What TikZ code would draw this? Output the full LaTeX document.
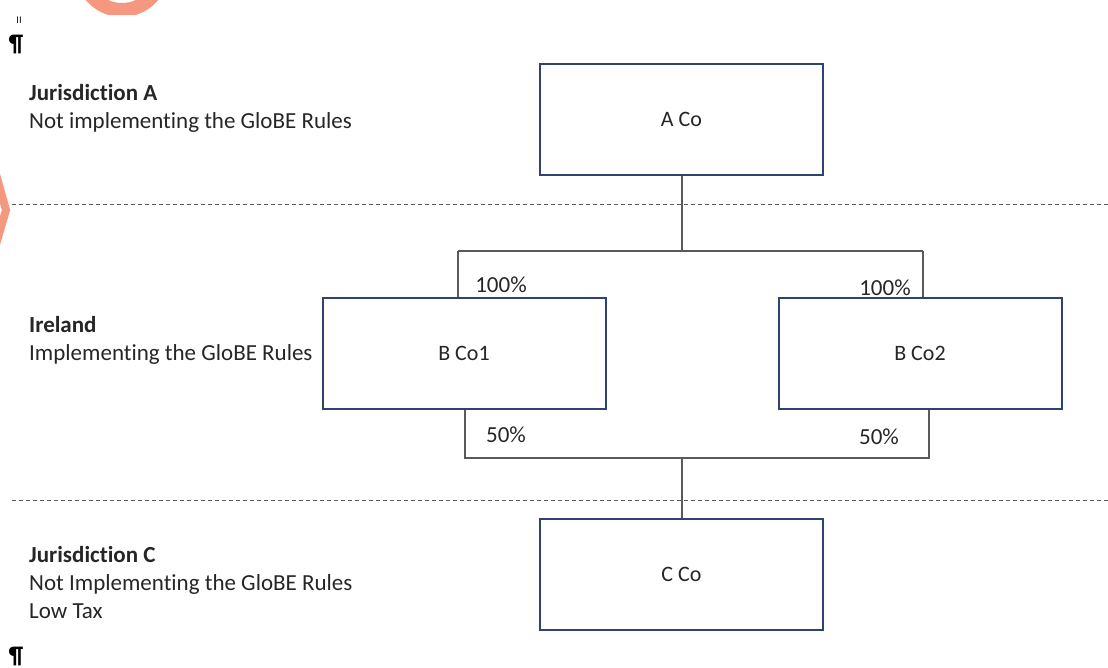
\documentclass[tikz,border=0pt]{standalone}
\usepackage{fontspec}
\setmainfont[Ligatures=NoCommon]{Carlito}
\newfontfamily\symfont{DejaVu Sans}
\begin{document}
\begin{tikzpicture}[x=1pt,y=-1pt,
  company/.style={draw=boxblue,line width=2pt,fill=white,minimum width=283pt,minimum height=111pt,inner sep=0pt,font=\fontsize{22}{26}\selectfont,text=txt},
  link/.style={draw=linkgray,line width=1.3pt},
  border/.style={draw=linkgray,line width=1pt,dash pattern=on 4pt off 3pt},
  juris/.style={anchor=north west,align=left,inner sep=0pt,font=\fontsize{23}{28}\selectfont,text=txt},
  pct/.style={inner sep=0pt,font=\fontsize{23}{26}\selectfont,text=txt},
  pmark/.style={inner sep=0pt,text=black}]
\definecolor{boxblue}{HTML}{2F4270}
\definecolor{linkgray}{HTML}{5A5A5A}
\definecolor{txt}{HTML}{262626}
\definecolor{wm}{HTML}{F6987F}
\useasboundingbox (0,0) rectangle (1108,667);
\fill[white] (0,0) rectangle (1108,667);
% watermark fragments
\begin{scope}
  \clip (0,0) rectangle (230,14);
  \draw[wm,line width=14pt] (122,-30) circle (40);
\end{scope}
\begin{scope}
  \clip (0,120) rectangle (10,270);
  \draw[wm,line width=8pt] (-8,160) -- (6,210) -- (-8,258);
\end{scope}
% marks
\node[pmark,font=\fontsize{9}{9}\selectfont\symfont] (m1) at (19,20) {II};
\node[pmark,font=\fontsize{24}{24}\selectfont\bfseries] (m2) at (16,45) {¶};
\node[pmark,font=\fontsize{24}{24}\selectfont\bfseries] (m3) at (16,656) {¶};
% borders
\coordinate (d1l) at (12,204); \coordinate (d1r) at (1108,204);
\coordinate (d2l) at (12,500); \coordinate (d2r) at (1108,500);
\draw[border] (d1l) -- (d1r);
\draw[border] (d2l) -- (d2r);
% jurisdiction labels
\node[juris] (ja) at (29,84.5) {\textbf{Jurisdiction A}\\Not implementing the GloBE Rules};
\node[juris] (ie) at (29,316.5) {\textbf{Ireland}\\Implementing the GloBE Rules};
\node[juris] (jc) at (29,546.5) {\textbf{Jurisdiction C}\\Not Implementing the GloBE Rules\\Low Tax};
% connectors
\coordinate (t1) at (682,251);
\coordinate (tl) at (458,251);
\coordinate (tr) at (923,251);
\coordinate (b1) at (682,458);
\coordinate (bl) at (465,458);
\coordinate (br) at (929,458);
% companies
\node[company] (aco) at (681.5,119.5) {A Co};
\node[company] (bco1) at (464,353.5) {B Co1};
\node[company] (bco2) at (920,353.5) {B Co2};
\node[company] (cco) at (681.5,574) {C Co};
\draw[link] (aco.south -| t1) -- (t1);
\draw[link] (tl) -- (tr);
\draw[link] (tl) -- (tl |- bco1.north);
\draw[link] (tr) -- (tr |- bco2.north);
\draw[link] (bl |- bco1.south) -- (bl) -- (br) -- (br |- bco2.south);
\draw[link] (b1) -- (b1 |- cco.north);
% percentages
\node[pct] (p1) at (501,285) {100\%};
\node[pct] (p2) at (885,288) {100\%};
\node[pct] (p3) at (506,435) {50\%};
\node[pct] (p4) at (879,437) {50\%};
\end{tikzpicture}
\end{document}
